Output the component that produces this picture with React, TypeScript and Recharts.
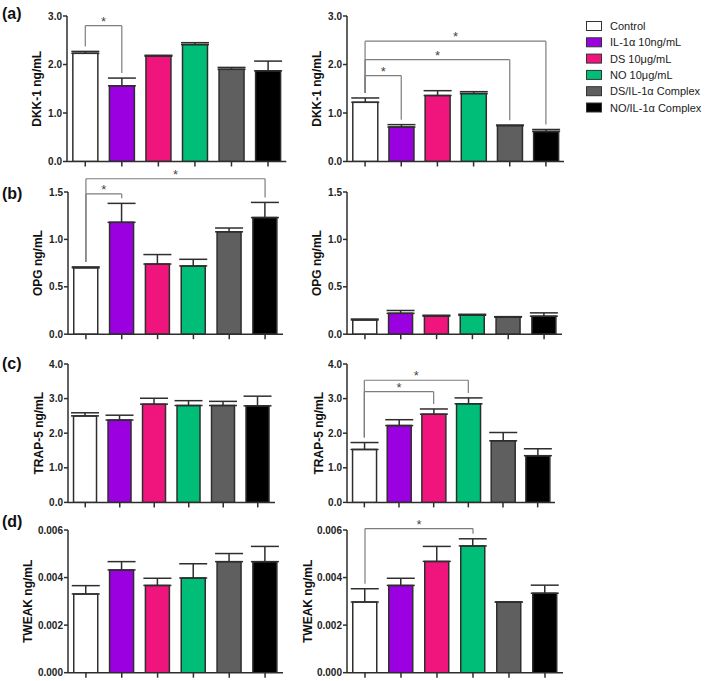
import React from 'react';
import { BarChart, Bar, XAxis, YAxis, ErrorBar, Cell, ReferenceLine } from 'recharts';

// ---------- data ----------
const groups = ['Control', 'IL-1α 10ng/mL', 'DS 10μg/mL', 'NO 10μg/mL', 'DS/IL-1α Complex', 'NO/IL-1α Complex'];
const groupColors = ['#FFFFFF', '#9B00E0', '#F0157C', '#00BE77', '#5F5F5F', '#000000'];

const dkkLeft = [2.23, 1.56, 2.17, 2.41, 1.9, 1.87];
const dkkLeftErr = [0.04, 0.16, 0.02, 0.04, 0.04, 0.2];
const dkkRight = [1.22, 0.71, 1.36, 1.4, 0.74, 0.62];
const dkkRightErr = [0.09, 0.05, 0.1, 0.04, 0.01, 0.04];

const opgLeft = [0.7, 1.18, 0.74, 0.72, 1.08, 1.23];
const opgLeftErr = [0.01, 0.2, 0.1, 0.07, 0.04, 0.16];
const opgRight = [0.15, 0.22, 0.19, 0.2, 0.18, 0.19];
const opgRightErr = [0.01, 0.03, 0.01, 0.01, 0.005, 0.035];

const trapLeft = [2.5, 2.38, 2.84, 2.8, 2.8, 2.79];
const trapLeftErr = [0.09, 0.14, 0.17, 0.14, 0.12, 0.28];
const trapRight = [1.53, 2.22, 2.55, 2.85, 1.78, 1.35];
const trapRightErr = [0.2, 0.17, 0.15, 0.17, 0.24, 0.2];

const tweakLeft = [0.00331, 0.00432, 0.00367, 0.00398, 0.00467, 0.00467];
const tweakLeftErr = [0.00035, 0.00035, 0.0003, 0.0006, 0.00034, 0.00064];
const tweakRight = [0.00297, 0.00367, 0.00468, 0.00533, 0.00297, 0.00334];
const tweakRightErr = [0.00056, 0.0003, 0.00063, 0.0003, 0, 0.00034];

const ticksDkk = [0, 1, 2, 3];
const ticksOpg = [0, 0.5, 1, 1.5];
const ticksTrap = [0, 1, 2, 3, 4];
const ticksTweak = [0, 0.002, 0.004, 0.006];

// significance brackets: group indices and bracket level (in data units)
const brDkkLeft = [{ from: 0, to: 1, level: 2.8 }];
const brDkkRight = [
  { from: 0, to: 1, level: 1.77 },
  { from: 0, to: 4, level: 2.1 },
  { from: 0, to: 5, level: 2.48 },
];
const brOpgLeft = [
  { from: 0, to: 1, level: 1.48 },
  { from: 0, to: 5, level: 1.64 },
];
const brTrapRight = [
  { from: 0, to: 2, level: 3.2 },
  { from: 0, to: 3, level: 3.53 },
];
const brTweakRight = [{ from: 0, to: 3, level: 0.00606 }];

// ---------- styling ----------
const FONT = '"Liberation Sans", Arial, Helvetica, sans-serif';
const AX = '#2e2e2e';
const BR = '#7d7d7d';

const fmt1 = (v: number) => v.toFixed(1);
const fmt3 = (v: number) => v.toFixed(3);

type Bracket = { from: number; to: number; level: number };
type Spec = {
  values: number[];
  errors: number[];
  yMax: number;
  ticks: number[];
  fmt: (v: number) => string;
  label: string;
  labelOff: number;
  brackets: Bracket[];
  box: { x0: number; x1: number; y0: number; y1: number };
};

const panels: Spec[] = [
  { values: dkkLeft, errors: dkkLeftErr, yMax: 3, ticks: ticksDkk, fmt: fmt1, label: 'DKK-1 ng/mL', labelOff: 29.5, brackets: brDkkLeft, box: { x0: 66.7, x1: 286, y0: 15.5, y1: 161 } },
  { values: dkkRight, errors: dkkRightErr, yMax: 3, ticks: ticksDkk, fmt: fmt1, label: 'DKK-1 ng/mL', labelOff: 30, brackets: brDkkRight, box: { x0: 347, x1: 564, y0: 15.5, y1: 161 } },
  { values: opgLeft, errors: opgLeftErr, yMax: 1.5, ticks: ticksOpg, fmt: fmt1, label: 'OPG ng/mL', labelOff: 30, brackets: brOpgLeft, box: { x0: 68, x1: 283, y0: 192.3, y1: 334.5 } },
  { values: opgRight, errors: opgRightErr, yMax: 1.5, ticks: ticksOpg, fmt: fmt1, label: 'OPG ng/mL', labelOff: 30, brackets: [], box: { x0: 347, x1: 562, y0: 192.3, y1: 334.5 } },
  { values: trapLeft, errors: trapLeftErr, yMax: 4, ticks: ticksTrap, fmt: fmt1, label: 'TRAP-5 ng/mL', labelOff: 29, brackets: [], box: { x0: 68, x1: 275, y0: 364.3, y1: 502.7 } },
  { values: trapRight, errors: trapRightErr, yMax: 4, ticks: ticksTrap, fmt: fmt1, label: 'TRAP-5 ng/mL', labelOff: 28, brackets: brTrapRight, box: { x0: 347, x1: 555, y0: 364.3, y1: 502.7 } },
  { values: tweakLeft, errors: tweakLeftErr, yMax: 0.006, ticks: ticksTweak, fmt: fmt3, label: 'TWEAK ng/mL', labelOff: 40, brackets: [], box: { x0: 68, x1: 283, y0: 530, y1: 672.7 } },
  { values: tweakRight, errors: tweakRightErr, yMax: 0.006, ticks: ticksTweak, fmt: fmt3, label: 'TWEAK ng/mL', labelOff: 39, brackets: brTweakRight, box: { x0: 347, x1: 563, y0: 530, y1: 672.7 } },
];

const panelLetters = ['(a)', '(b)', '(c)', '(d)'];
const letterY = [13.5, 193.5, 363, 521.5];

const EmptyTick = () => <g />;

const WY = 60;
const MT = 30;
const MR = 8;
const XH = 10;
const MB = 2;

function Panel({ spec }: { spec: Spec }) {
  const { x0, x1, y0, y1 } = spec.box;
  const plotH = y1 - y0;
  const width = WY + (x1 - x0) + MR;
  const height = MT + plotH + XH + MB;
  const data = groups.map((g, i) => ({ g, v: spec.values[i], e: [0, spec.errors[i]] }));
  const gapVal = (5 * spec.yMax) / plotH;

  const lines: React.ReactNode[] = [];
  spec.brackets.forEach((b, k) => {
    const ga = groups[b.from];
    const gc = groups[b.to];
    const legA = spec.values[b.from] + spec.errors[b.from] + gapVal;
    const legC = spec.values[b.to] + spec.errors[b.to] + gapVal;
    lines.push(
      <ReferenceLine
        key={`h${k}`}
        segment={[{ x: ga, y: b.level }, { x: gc, y: b.level }]}
        stroke={BR}
        strokeWidth={1.2}
        ifOverflow="visible"
        label={{ value: '*', position: 'top', offset: 0, fill: '#444', fontSize: 13 }}
      />
    );
    lines.push(
      <ReferenceLine key={`l${k}`} segment={[{ x: ga, y: b.level }, { x: ga, y: legA }]} stroke={BR} strokeWidth={1.2} ifOverflow="visible" />
    );
    lines.push(
      <ReferenceLine key={`r${k}`} segment={[{ x: gc, y: b.level }, { x: gc, y: legC }]} stroke={BR} strokeWidth={1.2} ifOverflow="visible" />
    );
  });

  const lx = WY - spec.labelOff;
  const ly = MT + plotH / 2;
  const yLabel = () => (
    <text
      x={lx}
      y={ly}
      transform={`rotate(-90 ${lx} ${ly})`}
      textAnchor="middle"
      dominantBaseline="central"
      fontWeight="bold"
      fontSize={12}
      fill="#111"
    >
      {spec.label}
    </text>
  );

  return (
    <div style={{ position: 'absolute', left: x0 - WY, top: y0 - MT }}>
      <BarChart width={width} height={height} data={data} margin={{ top: MT, right: MR, left: 0, bottom: MB }} barCategoryGap="16%">
        <XAxis
          dataKey="g"
          height={XH}
          interval={0}
          tick={<EmptyTick />}
          tickSize={5}
          axisLine={{ stroke: AX, strokeWidth: 1.5 }}
          tickLine={{ stroke: AX, strokeWidth: 1.5 }}
        />
        <YAxis
          width={WY}
          type="number"
          domain={[0, spec.yMax]}
          allowDataOverflow
          ticks={spec.ticks}
          interval={0}
          tickFormatter={spec.fmt}
          tickSize={4}
          tickMargin={1}
          axisLine={{ stroke: AX, strokeWidth: 1.5 }}
          tickLine={{ stroke: AX, strokeWidth: 1.5 }}
          tick={{ fill: '#222', fontSize: 10, fontWeight: 'bold' }}
          label={yLabel}
        />
        <Bar dataKey="v" isAnimationActive={false} stroke={AX} strokeWidth={1.5}>
          {groups.map((g, i) => (
            <Cell key={g} fill={groupColors[i]} />
          ))}
          <ErrorBar dataKey="e" width={14} stroke={AX} strokeWidth={1.5} direction="y" isAnimationActive={false} />
        </Bar>
        {lines}
      </BarChart>
    </div>
  );
}

export default function App() {
  return (
    <div style={{ position: 'absolute', left: 0, top: 0, width: 708, height: 681, background: '#fff', fontFamily: FONT, overflow: 'hidden' }}>
      {panels.map((p, i) => (
        <Panel key={i} spec={p} />
      ))}
      <svg width={708} height={681} style={{ position: 'absolute', left: 0, top: 0, pointerEvents: 'none' }}>
        {panelLetters.map((t, i) => (
          <text key={t} x={2} y={letterY[i]} dominantBaseline="central" fontWeight="bold" fontSize={16} fill="#111" fontFamily={FONT}>
            {t}
          </text>
        ))}
        {groups.map((g, i) => (
          <g key={g}>
            <rect x={586.5} y={21.5 + i * 16.3} width={15} height={9} fill={groupColors[i]} stroke="#333" strokeWidth={1} />
            <text x={610} y={26 + i * 16.3} dominantBaseline="central" fontSize={11} fill="#222" fontFamily={FONT}>
              {g}
            </text>
          </g>
        ))}
      </svg>
    </div>
  );
}
